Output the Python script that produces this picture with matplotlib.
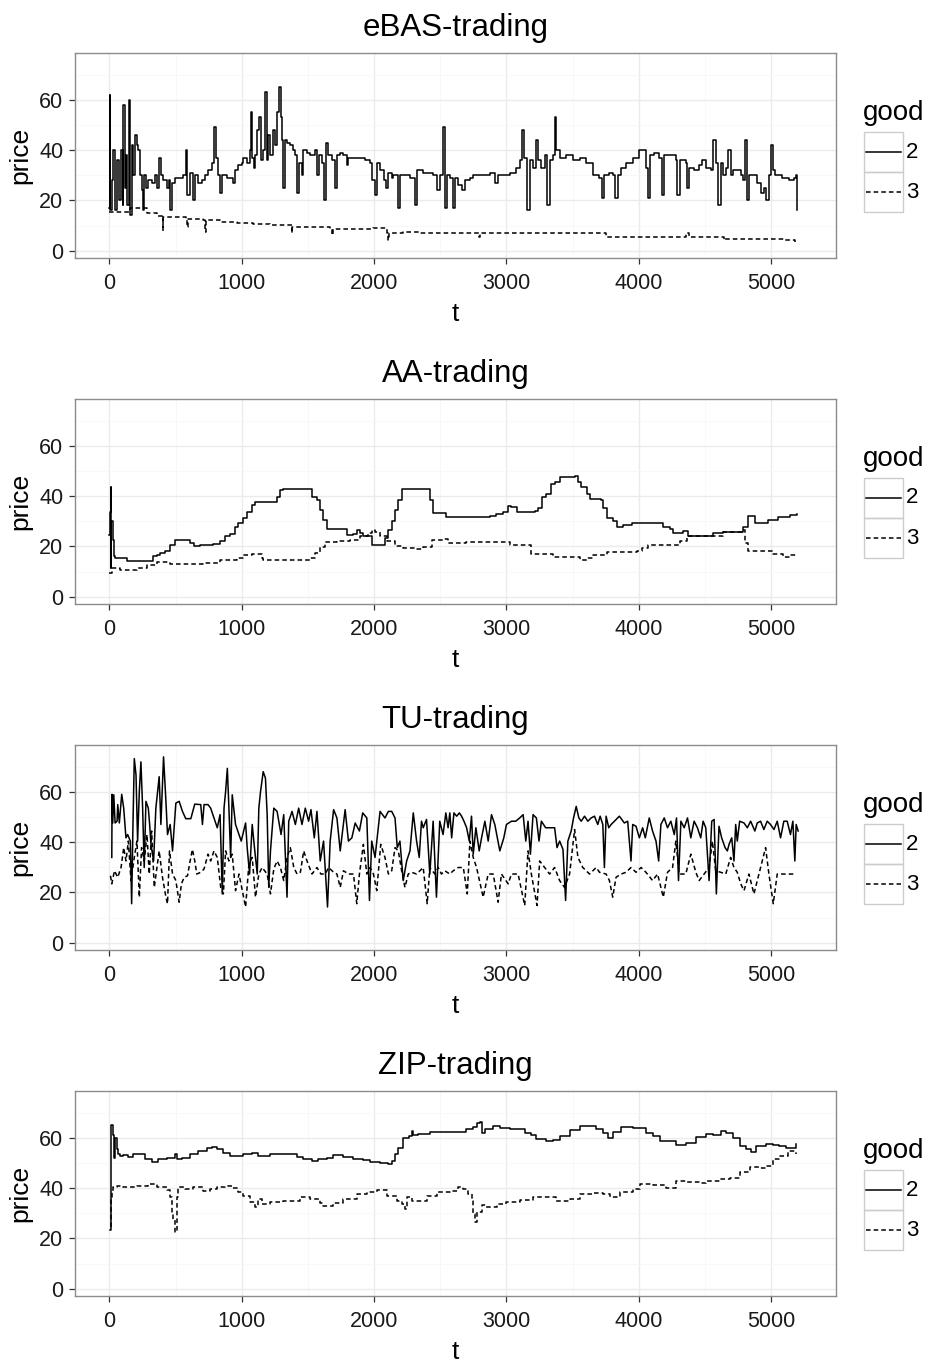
import matplotlib
matplotlib.use('Agg')
import matplotlib.pyplot as plt
from matplotlib.ticker import MultipleLocator
from matplotlib.patches import Rectangle

plt.rcParams['font.family'] = ['Liberation Sans', 'DejaVu Sans']

# ---- eBAS-trading ----
ebas_t2 = [0, 3, 8, 18, 30, 43, 55, 76, 86, 101,
           106, 118, 126, 136, 146, 156, 169, 181, 194, 207,
           219, 232, 244, 252, 262, 277, 295, 320, 345, 363,
           378, 388, 408, 433, 448, 458, 471, 496, 534, 559,
           577, 589, 610, 630, 647, 673, 698, 723, 748, 773,
           793, 806, 824, 836, 849, 887, 912, 932, 950, 975,
           1000, 1013, 1038, 1063, 1071, 1081, 1093, 1103, 1113, 1131,
           1144, 1159, 1176, 1189, 1202, 1214, 1234, 1252, 1265, 1282,
           1297, 1305, 1315, 1328, 1345, 1365, 1390, 1403, 1416, 1436,
           1453, 1466, 1491, 1516, 1554, 1572, 1587, 1605, 1622, 1637,
           1655, 1680, 1705, 1718, 1743, 1768, 1793, 1806, 1844, 1894,
           1932, 1970, 1982, 2008, 2020, 2045, 2071, 2091, 2108, 2134,
           2146, 2184, 2196, 2222, 2272, 2310, 2323, 2373, 2423, 2448,
           2474, 2499, 2524, 2537, 2553, 2573, 2593, 2611, 2636, 2661,
           2686, 2724, 2749, 2799, 2849, 2874, 2912, 2937, 2975, 3025,
           3075, 3100, 3115, 3130, 3155, 3175, 3200, 3221, 3238, 3263,
           3288, 3306, 3326, 3351, 3364, 3376, 3401, 3451, 3502, 3552,
           3602, 3652, 3677, 3702, 3722, 3740, 3778, 3803, 3818, 3840,
           3865, 3903, 3953, 4003, 4034, 4054, 4069, 4084, 4116, 4154,
           4174, 4192, 4229, 4279, 4289, 4310, 4355, 4367, 4380, 4417,
           4455, 4480, 4505, 4543, 4560, 4580, 4600, 4618, 4636, 4661,
           4676, 4693, 4711, 4731, 4769, 4786, 4806, 4819, 4836, 4869,
           4894, 4927, 4944, 4962, 4982, 5002, 5015, 5032, 5082, 5132,
           5170, 5188, 5198]
ebas_p2 = [17, 62, 16, 28, 40, 16, 36, 20, 40, 18,
           58, 25, 38, 18, 60, 14, 42, 30, 46, 42,
           40, 30, 24, 16, 30, 25, 28, 27, 30, 25,
           37, 30, 28, 25, 28, 16, 27, 29, 29, 30,
           40, 22, 31, 20, 30, 27, 28, 30, 32, 35,
           49, 37, 30, 23, 30, 29, 29, 27, 32, 34,
           35, 37, 35, 40, 55, 37, 33, 38, 48, 53,
           36, 40, 63, 36, 46, 38, 48, 42, 55, 65,
           53, 44, 25, 44, 43, 42, 40, 38, 23, 35,
           30, 40, 39, 38, 40, 30, 38, 35, 20, 43,
           38, 36, 25, 38, 39, 38, 34, 37, 37, 37,
           36, 35, 28, 22, 35, 32, 28, 25, 31, 29,
           30, 17, 30, 30, 29, 18, 32, 31, 31, 30,
           24, 30, 49, 17, 30, 29, 17, 29, 26, 24,
           28, 29, 30, 30, 30, 31, 27, 30, 30, 31,
           33, 36, 48, 37, 16, 36, 33, 44, 36, 33,
           38, 18, 36, 38, 53, 40, 37, 38, 36, 37,
           35, 30, 30, 29, 21, 30, 31, 30, 21, 30,
           33, 35, 37, 40, 40, 33, 21, 38, 39, 37,
           22, 38, 38, 36, 22, 36, 35, 25, 33, 32,
           34, 36, 33, 32, 44, 35, 18, 35, 30, 33,
           40, 30, 32, 32, 30, 28, 44, 20, 30, 30,
           27, 23, 25, 20, 30, 42, 32, 30, 29, 28,
           29, 30, 16]
ebas_t3 = [0, 156, 282, 358, 405, 408, 458, 582, 589, 596,
           710, 723, 730, 836, 962, 1088, 1214, 1378, 1380, 1390,
           1466, 1667, 1680, 1690, 1844, 1995, 2096, 2108, 2115, 2222,
           2348, 2474, 2575, 2749, 2790, 2800, 3250, 3753, 4355, 4380,
           4643, 4650, 4756, 5007, 5107, 5183]
ebas_p3 = [15.5, 16.8, 14.8, 13.8, 8, 13.5, 13.5, 12.8, 9.5, 12.8,
           12.2, 7.5, 12.2, 11.5, 10.9, 10.8, 10.2, 7.2, 9.5, 9.5,
           9.4, 8.5, 6.2, 8.5, 8.5, 8.9, 7.2, 4.2, 7.2, 7.5,
           6.9, 7.2, 6.9, 6.9, 5.3, 6.9, 6.9, 5.6, 7.2, 5.6,
           4.2, 4.5, 4.5, 4.5, 4.2, 3.6]

# ---- AA-trading ----
aa_t2 = [0, 5, 10, 13, 15, 25, 35, 43, 126, 136,
         320, 333, 358, 383, 421, 458, 496, 584, 610, 640,
         685, 786, 837, 874, 912, 950, 975, 1013, 1038, 1076,
         1101, 1239, 1264, 1290, 1315, 1453, 1516, 1529, 1567, 1592,
         1617, 1643, 1768, 1793, 1844, 1869, 1894, 1919, 1957, 1982,
         2045, 2083, 2108, 2134, 2159, 2184, 2209, 2398, 2423, 2443,
         2524, 2546, 2874, 2924, 2975, 3013, 3038, 3076, 3214, 3239,
         3265, 3302, 3333, 3365, 3403, 3491, 3517, 3542, 3567, 3605,
         3630, 3718, 3731, 3756, 3806, 3832, 3882, 3945, 4159, 4184,
         4235, 4260, 4336, 4373, 4512, 4562, 4638, 4739, 4789, 4827,
         4865, 4877, 4953, 4978, 5041, 5054, 5142, 5192]
aa_p2 = [24.6, 33.8, 43.7, 11.4, 30, 22.6, 16, 15.4, 15.4, 14.1,
         14.1, 16, 16.7, 17.3, 18, 20.7, 22.6, 22.6, 21.3, 20,
         20.7, 21, 22, 24, 25, 27.9, 29.2, 31.2, 33.8, 36.4,
         37.8, 37.8, 39.7, 42.4, 42.8, 42.8, 43, 39.7, 38.4, 34.5,
         30.5, 26.8, 26.8, 24.6, 25, 26.6, 25.3, 24.3, 24, 20.7,
         20.7, 23.4, 26.6, 29.9, 34.5, 38.4, 43, 43, 38.4, 33.4,
         33.4, 31.8, 32, 32.9, 33.8, 36, 35.8, 33.8, 34.1, 35.3,
         39.5, 41, 45, 45.7, 47.4, 47.4, 47.9, 45.7, 43.7, 41,
         38.7, 38.4, 35.1, 31.2, 30.1, 27.9, 28.6, 29.2, 29.2, 27.9,
         26.8, 25.3, 26.2, 24, 24, 25.3, 25.7, 25.9, 27.9, 32.1,
         32.1, 29.2, 29.2, 30.3, 30.3, 31.8, 32.5, 32.9]
aa_t3 = [0, 18, 81, 156, 207, 282, 358, 458, 584, 710,
         836, 962, 1013, 1076, 1126, 1151, 1164, 1340, 1466, 1516,
         1554, 1592, 1630, 1718, 1819, 1894, 1957, 1982, 2008, 2045,
         2096, 2159, 2222, 2323, 2373, 2436, 2524, 2559, 2698, 2998,
         3025, 3151, 3189, 3252, 3353, 3504, 3554, 3605, 3655, 3756,
         3983, 4021, 4071, 4260, 4310, 4361, 4512, 4638, 4779, 4802,
         4827, 4953, 5016, 5092, 5142, 5192]
aa_p3 = [9.5, 11.4, 10.8, 10.8, 11.4, 12.8, 13.7, 13.2, 13.2, 13.4,
         14.5, 15.4, 16.4, 17.1, 17.1, 15.4, 14.5, 14.5, 14.7, 15.4,
         17.4, 19.7, 21.6, 22, 22.6, 24, 25.3, 26.6, 25.9, 24,
         22, 20.3, 19.3, 18.9, 19.9, 22.4, 22.9, 21.3, 21.6, 21.8,
         20.7, 20.4, 17.1, 17.1, 15.8, 15.8, 14.5, 15.4, 16.4, 17.8,
         18.2, 19.3, 20.7, 20.7, 22, 24, 24.3, 25.7, 26.6, 21.3,
         18.3, 18, 17.1, 15.8, 16.7, 17.1]

# ---- TU-trading ----
tu_t2 = [18, 20, 25, 33, 43, 58, 63, 75, 93, 108,
         125, 138, 158, 168, 178, 188, 201, 213, 226, 238,
         251, 263, 276, 294, 304, 314, 334, 351, 364, 376,
         389, 409, 427, 439, 459, 477, 502, 527, 552, 577,
         615, 645, 690, 703, 715, 745, 765, 790, 815, 836,
         853, 866, 878, 891, 903, 916, 928, 953, 979, 996,
         1029, 1041, 1059, 1079, 1096, 1117, 1129, 1142, 1162, 1179,
         1192, 1204, 1217, 1242, 1267, 1297, 1317, 1342, 1355, 1380,
         1405, 1430, 1455, 1480, 1505, 1523, 1548, 1568, 1593, 1618,
         1648, 1668, 1694, 1719, 1744, 1781, 1806, 1832, 1857, 1889,
         1914, 1945, 1965, 1982, 2007, 2045, 2082, 2108, 2133, 2158,
         2175, 2195, 2220, 2246, 2271, 2296, 2321, 2341, 2358, 2371,
         2396, 2421, 2446, 2471, 2496, 2521, 2542, 2559, 2572, 2586,
         2603, 2624, 2644, 2661, 2679, 2699, 2719, 2736, 2749, 2769,
         2794, 2812, 2837, 2862, 2887, 2912, 2950, 2980, 3000, 3038,
         3070, 3100, 3126, 3146, 3163, 3181, 3201, 3226, 3246, 3264,
         3296, 3326, 3364, 3382, 3402, 3427, 3447, 3464, 3489, 3507,
         3527, 3547, 3565, 3590, 3615, 3640, 3665, 3690, 3708, 3728,
         3740, 3753, 3773, 3791, 3816, 3853, 3891, 3916, 3941, 3954,
         3979, 4004, 4029, 4049, 4079, 4104, 4130, 4150, 4167, 4192,
         4217, 4242, 4268, 4285, 4300, 4318, 4343, 4368, 4393, 4418,
         4443, 4468, 4486, 4506, 4531, 4551, 4569, 4586, 4606, 4626,
         4652, 4669, 4682, 4702, 4719, 4732, 4744, 4762, 4795, 4820,
         4845, 4877, 4895, 4920, 4945, 4970, 4995, 5021, 5046, 5071,
         5096, 5121, 5146, 5164, 5179, 5189, 5204]
tu_p2 = [33.9, 59, 47.6, 58.8, 47.6, 48.3, 54.9, 47.6, 59, 53.5,
         41.7, 43, 40.4, 15.5, 47, 73.2, 66.7, 40.4, 60.1, 71.9,
         53.5, 29.9, 56.2, 53.5, 47, 39.1, 32.5, 53.5, 60.1, 66,
         47, 73.9, 56.2, 43, 47, 36.5, 55.5, 56.2, 52.2, 49.3,
         49.3, 55.1, 54.9, 47, 54.9, 54.9, 53.5, 49.6, 45.7, 50.9,
         19.4, 53.5, 60.1, 69.3, 53.5, 33.9, 58.8, 47, 43, 40.4,
         47.6, 37.8, 27.3, 47, 37.8, 27.3, 53.5, 60.1, 68, 65.4,
         50.9, 22, 36.5, 53.5, 52.2, 43, 50.9, 18.1, 48.3, 52.2,
         47, 53.5, 47, 53.5, 48.3, 52.9, 41.7, 52.2, 32.5, 40.4,
         14.2, 40.4, 52.9, 49.6, 36.5, 52.9, 40.4, 41.7, 47.6, 44.4,
         51.6, 49.6, 16.8, 40.4, 33.9, 52.2, 49.6, 52.2, 52.2, 49.6,
         37.8, 40.4, 24.7, 32.5, 36.5, 51.6, 40.4, 33.9, 48.3, 45.7,
         49, 27.3, 48.3, 18.1, 48.3, 43, 51.6, 45.7, 51.6, 41.7,
         51.6, 50.3, 51.6, 50.3, 48.3, 45.7, 40.4, 50.3, 35.2, 45.7,
         36.5, 41.7, 48.3, 40.4, 50.9, 47, 36.5, 41.7, 47, 48.3,
         48.3, 49.6, 50.9, 40.4, 48.3, 35.2, 50.9, 49.6, 40.4, 48.3,
         45.7, 45.7, 45.7, 37.8, 40.4, 37.1, 16.8, 40.4, 44.4, 49.6,
         54.2, 49.6, 48.3, 50.3, 48.3, 49.6, 50.3, 47, 50.3, 47,
         29.9, 50.3, 45.7, 47, 48.3, 50.3, 47.6, 48.3, 32.5, 47,
         46.3, 41.7, 45.7, 41.7, 49.6, 44.4, 40.4, 32.5, 47, 49.6,
         45.7, 48.3, 43, 49.6, 24.7, 48.3, 45.7, 49.6, 41.7, 48.3,
         45.7, 41.7, 48.3, 45.7, 24.7, 48.3, 49, 19.4, 46.3, 41.7,
         37.8, 36.5, 39.1, 41.7, 32.5, 47, 40.4, 48.3, 47.6, 45.7,
         48.3, 44.4, 47.6, 48.3, 45, 48.3, 47, 45, 48.3, 41.7,
         48.3, 48.3, 43, 48.3, 32.5, 47, 44.4]
tu_t3 = [8, 18, 38, 63, 88, 108, 125, 143, 163, 188,
         208, 226, 243, 263, 284, 301, 319, 339, 359, 376,
         401, 427, 439, 454, 477, 502, 527, 544, 565, 590,
         610, 627, 645, 660, 690, 715, 745, 765, 790, 815,
         841, 861, 878, 903, 928, 953, 979, 1004, 1029, 1054,
         1079, 1104, 1129, 1154, 1192, 1217, 1242, 1267, 1292, 1317,
         1342, 1367, 1393, 1418, 1443, 1468, 1493, 1531, 1568, 1598,
         1631, 1656, 1694, 1719, 1744, 1769, 1806, 1844, 1869, 1889,
         1919, 1945, 1970, 1995, 2020, 2050, 2082, 2108, 2133, 2158,
         2183, 2208, 2233, 2258, 2283, 2321, 2371, 2401, 2421, 2459,
         2484, 2509, 2534, 2572, 2598, 2636, 2674, 2704, 2724, 2749,
         2774, 2824, 2862, 2900, 2937, 2962, 3013, 3038, 3088, 3138,
         3163, 3188, 3231, 3251, 3289, 3326, 3364, 3402, 3439, 3477,
         3515, 3540, 3577, 3628, 3678, 3703, 3753, 3778, 3803, 3828,
         3866, 3904, 3941, 3979, 4017, 4054, 4104, 4142, 4185, 4217,
         4255, 4280, 4305, 4355, 4393, 4431, 4456, 4493, 4531, 4556,
         4581, 4619, 4657, 4694, 4719, 4744, 4770, 4795, 4832, 4870,
         4908, 4958, 4983, 5016, 5046, 5083, 5134, 5184]
tu_p3 = [26.6, 23.4, 28.6, 26, 29.9, 37.8, 32.5, 40.4, 24.7, 33.9,
         40.4, 18.1, 37.8, 32.5, 43, 27.3, 44.4, 22, 29.9, 36.5,
         26, 18.1, 15.5, 36.5, 27.3, 24.7, 16.1, 23.4, 26, 26.6,
         32.5, 37.1, 32.5, 27.3, 28, 29.3, 35.2, 32.5, 36.5, 33.9,
         22, 19.4, 36.5, 32.5, 35.2, 20.7, 27.3, 20.7, 14.2, 31.2,
         33.9, 18.1, 27.3, 29.9, 27.3, 19.4, 29.3, 32.5, 29.9, 24.7,
         33.9, 37.8, 29.9, 27.3, 28, 36.5, 32.5, 27.3, 29.9, 27.3,
         27.3, 29.9, 28, 27.3, 22, 28.6, 27.3, 27.3, 15.5, 27.3,
         39.1, 27.3, 29.9, 27.3, 20.7, 39.1, 33.9, 27.3, 28.6, 37.8,
         36.5, 28.6, 22, 27.3, 28, 27.3, 29.9, 15.5, 29.9, 27.3,
         29.9, 27.3, 28.6, 27.3, 28.6, 29.9, 29.9, 19.4, 40.4, 33.9,
         29.9, 18.1, 27.3, 27.3, 16.1, 27.3, 23.4, 27.3, 27.3, 14.8,
         36.5, 27.3, 14.8, 32.5, 29.9, 27.3, 29.9, 24.7, 22, 27.3,
         45, 33.9, 29.9, 27.3, 29.9, 28, 27.3, 24.7, 18.1, 26,
         27.3, 28, 29.9, 28, 29.9, 28, 24.7, 27.3, 18.1, 28,
         29.9, 40.4, 27.3, 27.3, 35.2, 28, 24.7, 27.3, 29.9, 40.4,
         28.6, 28, 27.3, 33.9, 29.9, 28, 23.4, 20.7, 27.3, 19.4,
         27.3, 37.8, 27.3, 15.5, 27.3, 27.3, 27.3, 27.3]

# ---- ZIP-trading ----
zip_t2 = [5, 13, 25, 35, 43, 55, 68, 81, 106, 144,
          181, 232, 270, 320, 370, 433, 496, 509, 547, 610,
          673, 736, 773, 811, 862, 912, 1013, 1076, 1126, 1214,
          1290, 1365, 1416, 1466, 1529, 1579, 1642, 1693, 1768, 1844,
          1919, 1970, 2045, 2108, 2134, 2159, 2184, 2222, 2260, 2285,
          2297, 2335, 2423, 2474, 2574, 2648, 2698, 2749, 2774, 2799,
          2812, 2837, 2900, 2950, 3025, 3101, 3139, 3189, 3227, 3302,
          3352, 3403, 3478, 3554, 3617, 3680, 3730, 3768, 3805, 3868,
          3956, 4007, 4057, 4107, 4158, 4233, 4283, 4359, 4434, 4510,
          4560, 4623, 4661, 4711, 4761, 4812, 4849, 4887, 4963, 5013,
          5063, 5114, 5164, 5189]
zip_p2 = [23.2, 65.2, 61.3, 52.1, 60, 55.4, 53.4, 52.8, 53.1, 52.4,
          53.4, 53.4, 51.4, 50.5, 51.4, 52.1, 53.4, 51.4, 52.1, 53.4,
          54.7, 55.8, 56.3, 55.4, 54.1, 52.8, 53.4, 54.1, 52.8, 53.7,
          53.4, 53.7, 52.4, 51.4, 50.8, 51.4, 52.1, 53, 52.5, 51.7,
          51.2, 50.4, 49.9, 49.7, 50.8, 53.4, 56, 60, 60.6, 62.6,
          61.3, 61.5, 62.3, 62.2, 62.3, 62.3, 63.3, 64.2, 65.9, 66.3,
          61.9, 63.3, 64.6, 63.9, 63.3, 63.3, 61.9, 61.3, 59.6, 58.9,
          59.3, 60.6, 62.9, 64.6, 64.6, 63.3, 61.9, 60, 62.3, 64.2,
          63.9, 63.9, 61.9, 60.6, 58.9, 58.9, 57.3, 58, 60.2, 61.5,
          61.3, 62.6, 61.9, 60, 56.7, 55.4, 54.3, 56.7, 57.6, 57.3,
          56.7, 56, 55.8, 57.6]
zip_t3 = [10, 12, 18, 30, 55, 106, 207, 295, 358, 433,
          458, 471, 484, 499, 509, 521, 572, 635, 710, 761,
          811, 874, 924, 975, 1013, 1063, 1101, 1126, 1151, 1214,
          1315, 1441, 1516, 1592, 1617, 1693, 1768, 1869, 1945, 2020,
          2096, 2171, 2209, 2234, 2247, 2285, 2323, 2398, 2474, 2574,
          2598, 2635, 2673, 2711, 2736, 2749, 2761, 2774, 2812, 2849,
          2925, 3000, 3101, 3201, 3252, 3378, 3478, 3554, 3654, 3730,
          3780, 3856, 3956, 4007, 4107, 4208, 4283, 4359, 4459, 4510,
          4610, 4686, 4761, 4837, 4912, 4963, 5013, 5063, 5126, 5189]
zip_p3 = [24.5, 36.4, 38.3, 40.3, 40.9, 40.6, 40.9, 41.6, 40.3, 39.2,
          36.4, 29.8, 27.2, 22.6, 36.4, 40.3, 39.6, 40.3, 39, 39.6,
          40.6, 40.9, 40, 38.3, 37, 34.4, 32.4, 35.7, 33.5, 34.4,
          35, 36.6, 35.7, 34, 32.7, 34, 35.7, 37.7, 38.3, 39.2,
          37, 35, 33.7, 31.8, 36.4, 35, 35, 37, 38.3, 39,
          39, 40.6, 39.6, 37.7, 35, 29.8, 26.5, 30.4, 33.1, 32.4,
          33.5, 34.4, 35.3, 36.4, 36.6, 35, 35.7, 37.7, 37.9, 37.7,
          36.6, 38.3, 39.6, 41.6, 41.3, 40, 42.7, 42.3, 41.9, 42.9,
          43.6, 44.2, 46.2, 48.2, 47.9, 48.8, 51.4, 52.8, 54.7, 53.7]

titles = ["eBAS-trading", "AA-trading", "TU-trading", "ZIP-trading"]
goods = ["2", "3"]

panels = [
    (ebas_t2, ebas_p2, ebas_t3, ebas_p3, 'steps-post'),
    (aa_t2, aa_p2, aa_t3, aa_p3, 'steps-post'),
    (tu_t2, tu_p2, tu_t3, tu_p3, 'default'),
    (zip_t2, zip_p2, zip_t3, zip_p3, 'steps-post'),
]

W, H = 930, 1362
fig = plt.figure(figsize=(W / 100, H / 100), dpi=100)

tops = [53, 399, 745, 1091]
left, right, ph = 75, 836, 205
dash = (0, (3, 2))

for title, (t2, p2, t3, p3, ds), top in zip(titles, panels, tops):
    ax = fig.add_axes([left / W, 1 - (top + ph) / H, (right - left) / W, ph / H])
    ax.plot(t3, p3, color='black', lw=1.1, ls=dash, drawstyle=ds)
    ax.plot(t2, p2, color='black', lw=1.1, drawstyle=ds)
    ax.set_xlim(-260, 5490)
    ax.set_ylim(-2.9, 78.6)
    ax.set_xticks([0, 1000, 2000, 3000, 4000, 5000])
    ax.set_yticks([0, 20, 40, 60])
    ax.xaxis.set_minor_locator(MultipleLocator(500))
    ax.yaxis.set_minor_locator(MultipleLocator(10))
    ax.grid(which='major', color='#ebebeb', lw=1.0)
    ax.grid(which='minor', color='#f7f7f7', lw=0.6)
    ax.set_axisbelow(True)
    for s in ax.spines.values():
        s.set_color('#8c8c8c')
        s.set_linewidth(1.0)
    ax.tick_params(which='major', direction='out', length=4.5, width=0.9,
                   color='#333333', labelsize=15.5, labelcolor='#1a1a1a', pad=6)
    ax.tick_params(axis='y', which='major', pad=4)
    ax.tick_params(which='minor', length=0)
    ax.set_title(title, fontsize=22.5, pad=12)
    ax.set_xlabel('t', fontsize=19, labelpad=6)
    ax.set_ylabel('price', fontsize=19, labelpad=5)

    # legend
    lg = fig.add_axes([864 / W, 1 - (top + 159) / H, 39 / W, 80 / H])
    lg.set_xlim(0, 1)
    lg.set_ylim(0, 2)
    lg.axis('off')
    for i, g in enumerate(goods):
        y0 = 1 - i
        lg.add_patch(Rectangle((0, y0), 1, 1, fill=False, ec='#cccccc',
                               lw=1.0, clip_on=False))
        lg.plot([0.06, 0.94], [y0 + 0.5, y0 + 0.5], color='black', lw=1.1,
                ls='-' if i == 0 else dash)
        fig.text(906 / W, 1 - (top + 99 + 40 * i) / H, g, fontsize=16,
                 va='center', ha='left')
    fig.text(863 / W, 1 - (top + 60) / H, 'good', fontsize=20,
             va='center', ha='left')

fig.savefig('out.png', dpi=100)
